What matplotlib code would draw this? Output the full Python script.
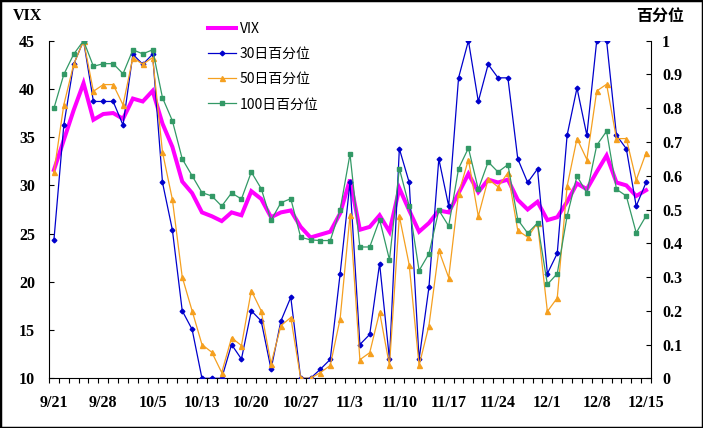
import matplotlib
matplotlib.use('Agg')
import matplotlib.pyplot as plt
from matplotlib.patches import Rectangle
from matplotlib.lines import Line2D

# ---- data ----
vix = [31.6, 34.7, 37.8, 40.6, 36.8, 37.4, 37.5, 36.9, 39.0, 38.7, 39.8, 36.4, 34.0, 30.4, 29.2,
       27.2, 26.8, 26.3, 27.2, 26.9, 29.4, 28.6, 26.7, 27.2, 27.4, 25.7, 24.6, 24.9, 25.2, 27.1,
       30.6, 25.4, 25.7, 26.9, 25.2, 29.7, 27.4, 25.2, 26.1, 27.4, 27.2, 29.2, 31.2, 29.3, 30.6,
       30.3, 30.6, 28.5, 27.5, 28.3, 26.4, 26.7, 28.3, 30.2, 29.6, 31.4, 33.1, 30.3, 30.0, 28.9, 29.5]
p30 = [0.41, 0.75, 0.93, 1.0, 0.82, 0.82, 0.82, 0.75, 0.96, 0.93, 0.96, 0.58, 0.44, 0.20, 0.145,
       0.0, 0.0, 0.0, 0.10, 0.057, 0.20, 0.17, 0.027, 0.17, 0.24, 0.0, 0.0, 0.027, 0.056, 0.31,
       0.58, 0.10, 0.13, 0.34, 0.056, 0.68, 0.58, 0.056, 0.27, 0.65, 0.51, 0.89, 1.0, 0.82, 0.93,
       0.89, 0.89, 0.65, 0.58, 0.62, 0.31, 0.37, 0.72, 0.86, 0.72, 1.0, 1.0, 0.72, 0.68, 0.51, 0.58]
p50 = [0.61, 0.81, 0.93, 1.0, 0.85, 0.87, 0.87, 0.81, 0.95, 0.93, 0.95, 0.67, 0.53, 0.30, 0.20,
       0.10, 0.077, 0.017, 0.12, 0.097, 0.26, 0.20, 0.043, 0.156, 0.18, 0.0, 0.0, 0.017, 0.038, 0.176,
       0.483, 0.055, 0.076, 0.196, 0.038, 0.48, 0.336, 0.038, 0.156, 0.379, 0.298, 0.547, 0.648, 0.48, 0.59,
       0.567, 0.609, 0.438, 0.418, 0.46, 0.198, 0.238, 0.569, 0.71, 0.648, 0.851, 0.871, 0.71, 0.71, 0.587, 0.668]
p100 = [0.80, 0.90, 0.96, 1.0, 0.924, 0.932, 0.932, 0.902, 0.973, 0.961, 0.973, 0.831, 0.763, 0.65, 0.60,
        0.55, 0.54, 0.51, 0.549, 0.531, 0.611, 0.562, 0.468, 0.52, 0.532, 0.418, 0.41, 0.408, 0.408, 0.499,
        0.664, 0.389, 0.389, 0.47, 0.351, 0.621, 0.51, 0.319, 0.369, 0.498, 0.451, 0.621, 0.682, 0.56, 0.641,
        0.611, 0.633, 0.47, 0.43, 0.46, 0.278, 0.31, 0.481, 0.599, 0.549, 0.69, 0.732, 0.56, 0.54, 0.431, 0.481]
tick_labels = ['9/21', '9/28', '10/5', '10/13', '10/20', '10/27', '11/3',
               '11/10', '11/17', '11/24', '12/1', '12/8', '12/15']
left_ticks = [10, 15, 20, 25, 30, 35, 40, 45]
right_ticks = [0, 0.1, 0.2, 0.3, 0.4, 0.5, 0.6, 0.7, 0.8, 0.9, 1.0]
right_tick_labels = ['0', '0.1', '0.2', '0.3', '0.4', '0.5', '0.6', '0.7', '0.8', '0.9', '1']
legend_labels = ['VIX', '30日百分位', '50日百分位', '100日百分位']

C_VIX = '#FF00FF'
C30 = '#0000CC'
C50 = '#F5A020'
C100 = '#339966'

W, H = 703, 428
fig = plt.figure(figsize=(W / 100, H / 100), dpi=100)
ax1 = fig.add_axes([49 / W, (H - 378.3) / H, 602 / W, 337.6 / H])
ax2 = ax1.twinx()

n = len(vix)
x = list(range(n))

ax1.plot(x, vix, color=C_VIX, lw=2.9, solid_joinstyle='miter', zorder=3)
ax2.plot(x, p30, color=C30, lw=0.9, marker='D', ms=2.4, zorder=4)
ax2.plot(x, p50, color=C50, lw=0.9, marker='^', ms=3.6, zorder=4)
ax2.plot(x, p100, color=C100, lw=0.9, marker='s', ms=2.8, zorder=4)

ax1.set_xlim(-0.5, n - 0.5)
ax1.set_ylim(10, 45)
ax2.set_ylim(0, 1)

serif = ['Liberation Serif', 'DejaVu Serif']
tick_font = dict(family=serif, weight='bold', size=11.5)

ax1.set_yticks(left_ticks)
ax1.set_yticklabels([str(v) for v in left_ticks], **tick_font)
ax2.set_yticks(right_ticks)
ax2.set_yticklabels(right_tick_labels, **tick_font)

ax1.set_xticks(list(range(0, n, 5)))
ax1.set_xticklabels(tick_labels, **tick_font)
ax1.set_xticks([i - 0.5 for i in range(n + 1)], minor=True)
ax1.tick_params(axis='x', which='major', length=0, pad=12)
ax1.tick_params(axis='x', which='minor', length=3.5, direction='out', width=0.8)
ax1.tick_params(axis='y', which='major', length=3.5, direction='in', width=0.8, pad=10)
ax2.tick_params(axis='y', which='major', length=3.5, direction='in', width=0.8, pad=8)

for ax in (ax1, ax2):
    ax.spines['top'].set_visible(False)
    for s in ax.spines.values():
        s.set_linewidth(0.8)
ax1.spines['right'].set_visible(False)
ax2.spines['left'].set_visible(False)
ax2.spines['bottom'].set_visible(False)

fig.text(13 / W, 1 - 16 / H, 'VIX', ha='left', va='center', family=serif, weight='bold', size=11.5)
fig.text(636 / W, 1 - 16 / H, '百分位', ha='left', va='center',
         family=['Noto Sans CJK SC', 'DejaVu Sans'], weight='bold', size=11.5)

handles = [
    Line2D([], [], color=C_VIX, lw=2.9),
    Line2D([], [], color=C30, lw=0.9, marker='D', ms=2.4),
    Line2D([], [], color=C50, lw=0.9, marker='^', ms=3.6),
    Line2D([], [], color=C100, lw=0.9, marker='s', ms=2.8),
]
leg = ax2.legend(handles, legend_labels, loc='upper left',
                 bbox_to_anchor=(208 / W, 1 - 22 / H), bbox_transform=fig.transFigure,
                 frameon=False, prop=dict(family=['Noto Sans CJK SC', 'DejaVu Sans'], size=10),
                 handlelength=2.0, handletextpad=0.3, labelspacing=0.8, borderpad=0, borderaxespad=0)

fig.add_artist(Rectangle((0, 0), 1, 1, transform=fig.transFigure, fill=False,
                         edgecolor='black', lw=2.5, clip_on=False))

fig.savefig('out.png', dpi=100)
